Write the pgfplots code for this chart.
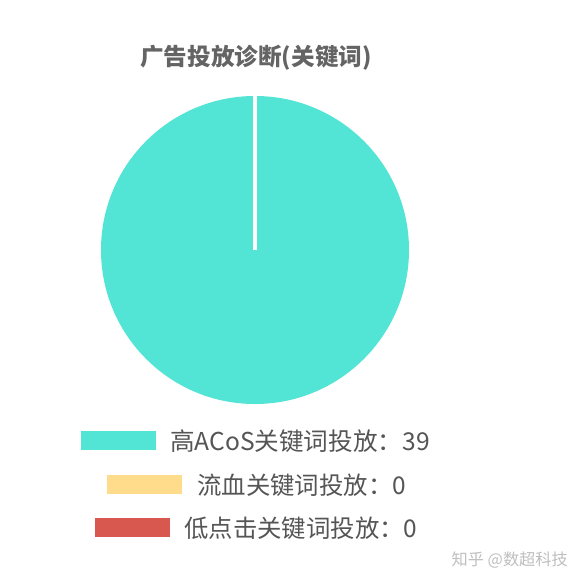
\documentclass[border=0pt]{standalone}
\usepackage{pgfplots}
\pgfplotsset{compat=1.18}
\usepackage{fontspec}
\setmainfont{Noto Sans CJK SC}
\definecolor{cteal}{RGB}{82,228,212}
\definecolor{cyel}{RGB}{255,220,140}
\definecolor{cred}{RGB}{216,88,80}
\definecolor{ctext}{RGB}{85,85,85}
\definecolor{ctitle}{RGB}{100,100,100}
\begin{document}
\begin{tikzpicture}[x=1pt,y=1pt]
\useasboundingbox[fill=white] (0,0) rectangle (580,584);
% values: 39, 0, 0 (total 39): slice 1 spans the full circle starting at 90 deg
\begin{axis}[at={(101pt,180pt)}, anchor=south west, scale only axis,
  width=308pt, height=308pt, xmin=-1, xmax=1, ymin=-1, ymax=1, hide axis, clip=false]
  \fill[cteal] (axis cs:0,0) circle [radius=1];
  \draw[white, line width=3.5pt] (axis cs:0,0) -- (axis cs:0,1.01);
\end{axis}
\node[font=\fontsize{23.6}{26}\selectfont\bfseries, text=ctitle] at (256,526) {广告投放诊断(关键词)};
\fill[cteal] (81,134) rectangle (156,153);
\node[anchor=west, inner sep=0, font=\fontsize{24.6}{28}\selectfont, text=ctext] at (170,142.5) {高ACoS关键词投放：39};
\fill[cyel] (107,90) rectangle (182,109);
\node[anchor=west, inner sep=0, font=\fontsize{24.4}{28}\selectfont, text=ctext] at (197,98.5) {流血关键词投放：0};
\fill[cred] (95,47) rectangle (170,66);
\node[anchor=west, inner sep=0, font=\fontsize{24.4}{28}\selectfont, text=ctext] at (184,55.5) {低点击关键词投放：0};
\node[anchor=east, inner sep=0, font=\fontsize{16.2}{18}\selectfont, text=black!25] at (568,24) {知乎 @数超科技};
\end{tikzpicture}
\end{document}
